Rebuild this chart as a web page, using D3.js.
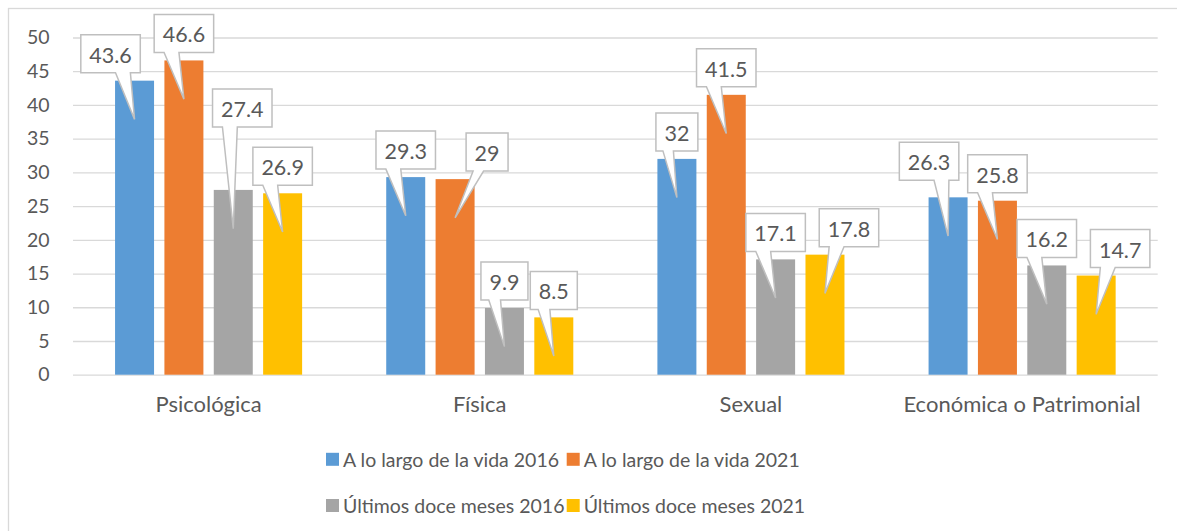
<!DOCTYPE html>
<html>
<head>
<meta charset="utf-8">
<script src="https://cdn.jsdelivr.net/npm/d3@7"></script>
<style>
  body { margin: 0; background: #fff; }
  svg text { font-family: Lato, "Noto Sans", sans-serif; fill: #595959; }
</style>
</head>
<body>
<svg id="chart"></svg>
<script>
var categories = ["Psicológica", "Física", "Sexual", "Económica o Patrimonial"];
var seriesNames = ["A lo largo de la vida 2016", "A lo largo de la vida 2021",
                   "Últimos doce meses 2016", "Últimos doce meses 2021"];
var vida2016 = [43.6, 29.3, 32, 26.3];
var vida2021 = [46.6, 29, 41.5, 25.8];
var meses2016 = [27.4, 9.9, 17.1, 16.2];
var meses2021 = [26.9, 8.5, 17.8, 14.7];
var yTicks = [0, 5, 10, 15, 20, 25, 30, 35, 40, 45, 50];
var colors = ["#5b9bd5", "#ed7d31", "#a5a5a5", "#ffc000"];
// manual nudges of the callout boxes [dx, dy], per series then category
var labelNudge = [
  [[-24, 0], [0, 0], [0, 0], [-19, -9]],
  [[0, 0], [32, 0], [0, 0], [0, 0]],
  [[9, -55], [0, 0], [0, 0], [0, 0]],
  [[0, 0], [0, 0], [24, 0], [24, 0]]
];

var allSeries = [vida2016, vida2021, meses2016, meses2021];
var W = 1177, H = 531;
var plotL = 73, plotR = 1157.7, plotT = 37.5, plotB = 374.7;

var svg = d3.select("#chart").attr("width", W).attr("height", H);

svg.append("rect")
  .attr("x", 8.5).attr("y", 8.5)
  .attr("width", 1200).attr("height", 600)
  .attr("fill", "none").attr("stroke", "#d9d9d9").attr("stroke-width", 1.3);

var x0 = d3.scaleBand().domain(categories).range([plotL, plotR]);
var x1 = d3.scaleBand().domain(d3.range(4)).range([0, x0.bandwidth()])
  .paddingInner(0.21).paddingOuter(0.852);
var y = d3.scaleLinear().domain([0, 50]).range([plotB, plotT]);

// gridlines
svg.append("g")
  .attr("transform", "translate(" + plotL + ",0)")
  .call(d3.axisLeft(y).tickValues(yTicks).tickSize(-(plotR - plotL)).tickFormat(""))
  .call(g => g.select(".domain").remove())
  .call(g => g.selectAll("line").attr("stroke", "#d9d9d9").attr("stroke-width", 1.3));

// y labels
svg.append("g")
  .attr("transform", "translate(49.5,0)")
  .call(d3.axisLeft(y).tickValues(yTicks).tickSize(0).tickPadding(0))
  .call(g => g.select(".domain").remove())
  .call(g => g.selectAll("text").attr("font-size", 19.5).style("font-family", null).attr("fill", "#595959"));

// x labels
svg.append("g")
  .attr("transform", "translate(0," + plotB + ")")
  .call(d3.axisBottom(x0).tickSize(0).tickPadding(0))
  .call(g => g.select(".domain").remove())
  .call(g => g.selectAll("text").attr("font-size", 22).attr("dy", 0).attr("y", 32)
    .attr("dominant-baseline", "middle").style("font-family", null).attr("fill", "#595959"));

// bars
var groups = svg.selectAll("g.series").data(allSeries).enter()
  .append("g").attr("class", "series").attr("fill", (d, i) => colors[i]);

groups.each(function(vals, si) {
  d3.select(this).selectAll("rect").data(vals).enter().append("rect")
    .attr("x", (d, ci) => x0(categories[ci]) + x1(si))
    .attr("y", d => y(d))
    .attr("width", x1.bandwidth())
    .attr("height", d => plotB - y(d));
});

// callout labels
var labels = svg.append("g");
allSeries.forEach(function(vals, si) {
  vals.forEach(function(v, ci) {
    var cx = x0(categories[ci]) + x1(si) + x1.bandwidth() / 2;
    var barTop = y(v);
    var tipX = cx, tipY = barTop + 38.7;
    var g = labels.append("g");
    var path = g.append("path");
    var t = g.append("text").text(String(v))
      .attr("font-size", 21.5).attr("text-anchor", "middle").attr("dominant-baseline", "central");
    var tw = t.node().getComputedTextLength();
    var w = tw + 17, h = 38;
    var bx = cx + labelNudge[si][ci][0], by = barTop - 27 + labelNudge[si][ci][1];
    t.attr("x", bx).attr("y", by + 1);
    var x0b = bx - w / 2, y0b = by - h / 2;
    var dxPos = tipX - bx;
    var g1 = dxPos > 0 ? 7 : 2, g2 = dxPos > 0 ? 10 : 5;
    var d = "M" + x0b + "," + y0b + "H" + (x0b + w) + "V" + (y0b + h) +
      "H" + (x0b + w * g2 / 12) + "L" + tipX + "," + tipY +
      "L" + (x0b + w * g1 / 12) + "," + (y0b + h) + "H" + x0b + "Z";
    path.attr("d", d).attr("fill", "#fff").attr("stroke", "#bfbfbf").attr("stroke-width", 1.5);
  });
});

// legend
var legendPos = [[326, 459.3], [566.7, 459.3], [326, 505.5], [566.7, 505.5]];
var legend = svg.append("g");
seriesNames.forEach(function(name, i) {
  var p = legendPos[i];
  legend.append("rect").attr("x", p[0]).attr("y", p[1] - 6.5)
    .attr("width", 13).attr("height", 13).attr("fill", colors[i]);
  legend.append("text").attr("x", p[0] + 17).attr("y", p[1])
    .attr("dominant-baseline", "central").attr("font-size", 19.5).text(name);
});
</script>
</body>
</html>
